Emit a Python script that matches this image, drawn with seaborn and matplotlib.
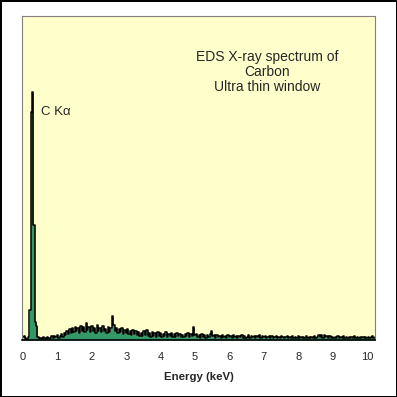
import numpy as np
import matplotlib
matplotlib.use("Agg")
import matplotlib.pyplot as plt
import seaborn as sns

# EDS spectrum of carbon, counts per 0.04 keV channel starting at 0 keV
channel_width = 0.04
counts = [
    3, 4, 2, 1, 3, 30, 228, 248, 115, 18, 14, 3, 1, 2, 1, 3, 2, 1, 3, 2,
    1, 4, 2, 4, 3, 5, 2, 4, 6, 3, 7, 5, 9, 6, 11, 7, 12, 8, 13, 9,
    12, 7, 14, 9, 13, 8, 17, 10, 13, 8, 14, 9, 12, 7, 15, 9, 12, 8, 14, 9,
    11, 7, 13, 8, 12, 24, 15, 9, 12, 7, 11, 8, 12, 6, 10, 7, 11, 6, 9, 5,
    10, 6, 9, 5, 8, 4, 7, 4, 9, 5, 10, 4, 7, 3, 8, 4, 7, 3, 8, 4,
    7, 3, 6, 4, 8, 3, 6, 4, 7, 3, 6, 3, 7, 4, 6, 3, 5, 3, 6, 4,
    7, 3, 6, 4, 13, 5, 6, 3, 5, 2, 6, 3, 5, 2, 5, 3, 6, 9, 4, 5,
    2, 5, 3, 4, 2, 5, 3, 4, 2, 5, 3, 4, 2, 5, 3, 4, 2, 4, 3, 5,
    2, 4, 2, 3, 5, 2, 4, 3, 4, 2, 4, 3, 5, 2, 4, 3, 4, 2, 3, 4,
    2, 4, 2, 3, 4, 2, 3, 2, 4, 3, 2, 3, 4, 2, 3, 2, 4, 2, 3, 2,
    4, 2, 3, 2, 3, 2, 4, 2, 3, 2, 3, 2, 4, 2, 3, 5, 3, 5, 2, 5,
    3, 4, 2, 4, 2, 3, 2, 3, 2, 4, 2, 3, 2, 4, 2, 3, 2, 3, 2, 3,
    2, 4, 2, 3, 2, 3, 2, 3, 2, 3, 2, 3, 2, 3, 4, 2, 3,
]
energy = np.arange(len(counts)) * channel_width

x_ticks = list(range(0, 11))
title_lines = ["EDS X-ray spectrum of", "Carbon", "Ultra thin window"]
peak_label = "C K\u03b1"

sns.set_style("white")
plt.rcParams['font.family'] = ['Liberation Sans', 'DejaVu Sans']

fig = plt.figure(figsize=(3.97, 3.97), dpi=100, facecolor="white",
                 edgecolor="black", linewidth=2)
ax = fig.add_axes([22 / 397, 1 - 340 / 397, 353 / 397, 324 / 397])
ax.set_facecolor("#FFFFCC")

ax.fill_between(energy, counts, 0, step="mid", color="#339966", lw=0)
sns.lineplot(x=energy, y=counts, color="black", linewidth=1.1,
             drawstyle="steps-mid", ax=ax)

ax.set_xlim(-0.03, 10.23)
ax.set_ylim(0, 324)
ax.set_xticks(x_ticks)
ax.set_yticks([])
ax.tick_params(axis="x", length=0, pad=9, labelsize=8)

for side in ["left", "top", "right"]:
    ax.spines[side].set_color("#808080")
    ax.spines[side].set_linewidth(0.8)
ax.spines["bottom"].set_color("black")
ax.spines["bottom"].set_linewidth(1.2)

ax.set_xlabel("Energy (keV)", fontsize=8.2, fontweight="bold", labelpad=7)

ax.text(0.694, 0.827, "\n".join(title_lines), transform=ax.transAxes,
        ha="center", va="center", fontsize=10, linespacing=1.1)
ax.text(0.054, 0.704, peak_label, transform=ax.transAxes,
        ha="left", va="center", fontsize=9.5)

fig.savefig("out.png", dpi=100)
